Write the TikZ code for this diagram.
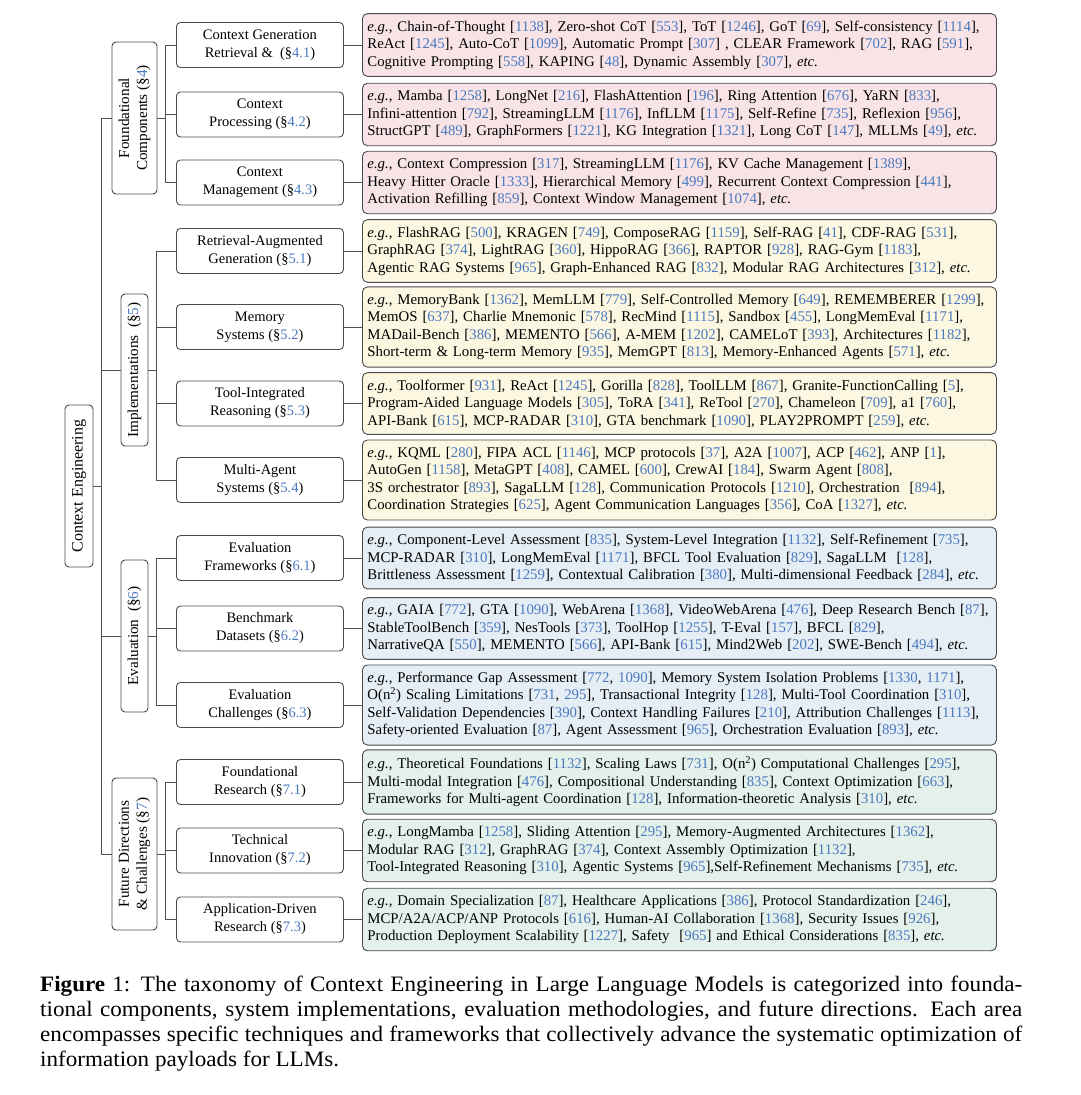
\documentclass[tikz,border=0pt]{standalone}
\usepackage{fontspec}
\setmainfont{Liberation Serif}
\newfontfamily\capfont[FakeStretch=1.05]{Liberation Serif}
\usetikzlibrary{positioning}
\definecolor{cblue}{HTML}{4A78BE}
\definecolor{linegray}{HTML}{505050}
\definecolor{boxgray}{HTML}{4A4A4A}
\definecolor{pinkf}{HTML}{F8E4E7}
\definecolor{creamf}{HTML}{FCF7E1}
\definecolor{bluef}{HTML}{E6EEF5}
\definecolor{greenf}{HTML}{E4F0EA}
\newcommand{\cc}[1]{\textcolor{cblue}{#1}}
\newcommand{\rf}[1]{[\cc{#1}]}
\newcommand{\eg}{\textit{e.g.}}
\newcommand{\etcx}{\textit{etc.}}
\begin{document}
\begin{tikzpicture}[x=1pt,y=-1pt,
  conn/.style={draw=linegray, line width=0.9pt},
  boxbase/.style={draw=boxgray, line width=0.9pt, rounded corners=4pt, fill=white, font=\fontsize{14.5}{18}\selectfont, inner sep=3pt},
  rootbox/.style={boxbase, font=\fontsize{16}{18}\selectfont, rotate=90, minimum width=162pt, minimum height=28pt},
  catA/.style={boxbase, font=\fontsize{15.2}{18}\selectfont, rotate=90, minimum width=152pt, minimum height=45pt, align=center},
  catB/.style={boxbase, font=\fontsize{15.2}{18}\selectfont, rotate=90, minimum width=152pt, minimum height=27pt},
  subbox/.style={boxbase, anchor=west, minimum width=167pt, minimum height=45pt, align=center},
  leafbox/.style={draw=boxgray, line width=0.9pt, rounded corners=5pt, anchor=west, text width=624pt, inner xsep=5pt, inner ysep=7pt, align=left, font=\fontsize{14.8}{17.5}\selectfont},
]
\useasboundingbox (0,0) rectangle (1080,1095);
\fill[white] (0,0) rectangle (1080,1095);

% root and categories
\node[rootbox] (root) at (79,486) {Context Engineering};
\node[catA] (fc) at (134.5,118) {Foundational\\Components (§\cc{4})};
\node[catB] (im) at (134.5,370) {Implementations\ \ (§\cc{5})};
\node[catB] (ev) at (134.5,636) {Evaluation\ \ (§\cc{6})};
\node[catA] (fd) at (134.5,854) {Future Directions\\\& Challenges (§\cc{7})};

% subcategories
\node[subbox] (s41) at (176,45) {Context Generation\\Retrieval \&\ \ (§\cc{4.1})};
\node[subbox] (s42) at (176,114.5) {Context\\Processing (§\cc{4.2})};
\node[subbox] (s43) at (176,182.5) {Context\\Management (§\cc{4.3})};
\node[subbox] (s51) at (176,251) {Retrieval-Augmented\\Generation (§\cc{5.1})};
\node[subbox] (s52) at (176,327) {Memory\\Systems (§\cc{5.2})};
\node[subbox] (s53) at (176,403.5) {Tool-Integrated\\Reasoning (§\cc{5.3})};
\node[subbox] (s54) at (176,480) {Multi-Agent\\Systems (§\cc{5.4})};
\node[subbox] (s61) at (176,558) {Evaluation\\Frameworks (§\cc{6.1})};
\node[subbox] (s62) at (176,628.5) {Benchmark\\Datasets (§\cc{6.2})};
\node[subbox] (s63) at (176,705) {Evaluation\\Challenges (§\cc{6.3})};
\node[subbox] (s71) at (176,782) {Foundational\\Research (§\cc{7.1})};
\node[subbox] (s72) at (176,850.5) {Technical\\Innovation (§\cc{7.2})};
\node[subbox] (s73) at (176,919.5) {Application-Driven\\Research (§\cc{7.3})};

% leaves
\node[leafbox, fill=pinkf] (l41) at (362,45) {\eg, Chain-of-Thought \rf{1138}, Zero-shot CoT \rf{553}, ToT \rf{1246}, GoT \rf{69}, Self-consistency \rf{1114},\\
ReAct \rf{1245}, Auto-CoT \rf{1099}, Automatic Prompt \rf{307} , CLEAR Framework \rf{702}, RAG \rf{591},\\
Cognitive Prompting \rf{558}, KAPING \rf{48}, Dynamic Assembly \rf{307}, \etcx};
\node[leafbox, fill=pinkf] (l42) at (362,114.5) {\eg, Mamba \rf{1258}, LongNet \rf{216}, FlashAttention \rf{196}, Ring Attention \rf{676}, YaRN \rf{833},\\
Infini-attention \rf{792}, StreamingLLM \rf{1176}, InfLLM \rf{1175}, Self-Refine \rf{735}, Reflexion \rf{956},\\
StructGPT \rf{489}, GraphFormers \rf{1221}, KG Integration \rf{1321}, Long CoT \rf{147}, MLLMs \rf{49}, \etcx};
\node[leafbox, fill=pinkf] (l43) at (362,182.5) {\eg, Context Compression \rf{317}, StreamingLLM \rf{1176}, KV Cache Management \rf{1389},\\
Heavy Hitter Oracle \rf{1333}, Hierarchical Memory \rf{499}, Recurrent Context Compression \rf{441},\\
Activation Refilling \rf{859}, Context Window Management \rf{1074}, \etcx};
\node[leafbox, fill=creamf] (l51) at (362,251) {\eg, FlashRAG \rf{500}, KRAGEN \rf{749}, ComposeRAG \rf{1159}, Self-RAG \rf{41}, CDF-RAG \rf{531},\\
GraphRAG \rf{374}, LightRAG \rf{360}, HippoRAG \rf{366}, RAPTOR \rf{928}, RAG-Gym \rf{1183},\\
Agentic RAG Systems \rf{965}, Graph-Enhanced RAG \rf{832}, Modular RAG Architectures \rf{312}, \etcx};
\node[leafbox, fill=creamf] (l52) at (362,327) {\eg, MemoryBank \rf{1362}, MemLLM \rf{779}, Self-Controlled Memory \rf{649}, REMEMBERER \rf{1299},\\
MemOS \rf{637}, Charlie Mnemonic \rf{578}, RecMind \rf{1115}, Sandbox \rf{455}, LongMemEval \rf{1171},\\
MADail-Bench \rf{386}, MEMENTO \rf{566}, A-MEM \rf{1202}, CAMELoT \rf{393}, Architectures \rf{1182},\\
Short-term \& Long-term Memory \rf{935}, MemGPT \rf{813}, Memory-Enhanced Agents \rf{571}, \etcx};
\node[leafbox, fill=creamf] (l53) at (362,403.5) {\eg, Toolformer \rf{931}, ReAct \rf{1245}, Gorilla \rf{828}, ToolLLM \rf{867}, Granite-FunctionCalling \rf{5},\\
Program-Aided Language Models \rf{305}, ToRA \rf{341}, ReTool \rf{270}, Chameleon \rf{709}, a1 \rf{760},\\
API-Bank \rf{615}, MCP-RADAR \rf{310}, GTA benchmark \rf{1090}, PLAY2PROMPT \rf{259}, \etcx};
\node[leafbox, fill=creamf] (l54) at (362,480) {\eg, KQML \rf{280}, FIPA ACL \rf{1146}, MCP protocols \rf{37}, A2A \rf{1007}, ACP \rf{462}, ANP \rf{1},\\
AutoGen \rf{1158}, MetaGPT \rf{408}, CAMEL \rf{600}, CrewAI \rf{184}, Swarm Agent \rf{808},\\
3S orchestrator \rf{893}, SagaLLM \rf{128}, Communication Protocols \rf{1210}, Orchestration\ \ \rf{894},\\
Coordination Strategies \rf{625}, Agent Communication Languages \rf{356}, CoA \rf{1327}, \etcx};
\node[leafbox, fill=bluef] (l61) at (362,558) {\eg, Component-Level Assessment \rf{835}, System-Level Integration \rf{1132}, Self-Refinement \rf{735},\\
MCP-RADAR \rf{310}, LongMemEval \rf{1171}, BFCL Tool Evaluation \rf{829}, SagaLLM\ \ \rf{128},\\
Brittleness Assessment \rf{1259}, Contextual Calibration \rf{380}, Multi-dimensional Feedback \rf{284}, \etcx};
\node[leafbox, fill=bluef] (l62) at (362,628.5) {\eg, GAIA \rf{772}, GTA \rf{1090}, WebArena \rf{1368}, VideoWebArena \rf{476}, Deep Research Bench \rf{87},\\
StableToolBench \rf{359}, NesTools \rf{373}, ToolHop \rf{1255}, T-Eval \rf{157}, BFCL \rf{829},\\
NarrativeQA \rf{550}, MEMENTO \rf{566}, API-Bank \rf{615}, Mind2Web \rf{202}, SWE-Bench \rf{494}, \etcx};
\node[leafbox, fill=bluef] (l63) at (362,705) {\eg, Performance Gap Assessment [\cc{772}, \cc{1090}], Memory System Isolation Problems [\cc{1330}, \cc{1171}],\\
O(n\textsuperscript{2}) Scaling Limitations [\cc{731}, \cc{295}], Transactional Integrity \rf{128}, Multi-Tool Coordination \rf{310},\\
Self-Validation Dependencies \rf{390}, Context Handling Failures \rf{210}, Attribution Challenges \rf{1113},\\
Safety-oriented Evaluation \rf{87}, Agent Assessment \rf{965}, Orchestration Evaluation \rf{893}, \etcx};
\node[leafbox, fill=greenf] (l71) at (362,782) {\eg, Theoretical Foundations \rf{1132}, Scaling Laws \rf{731}, O(n\textsuperscript{2}) Computational Challenges \rf{295},\\
Multi-modal Integration \rf{476}, Compositional Understanding \rf{835}, Context Optimization \rf{663},\\
Frameworks for Multi-agent Coordination \rf{128}, Information-theoretic Analysis \rf{310}, \etcx};
\node[leafbox, fill=greenf] (l72) at (362,850.5) {\eg, LongMamba \rf{1258}, Sliding Attention \rf{295}, Memory-Augmented Architectures \rf{1362},\\
Modular RAG \rf{312}, GraphRAG \rf{374}, Context Assembly Optimization \rf{1132},\\
Tool-Integrated Reasoning \rf{310}, Agentic Systems \rf{965},Self-Refinement Mechanisms \rf{735}, \etcx};
\node[leafbox, fill=greenf] (l73) at (362,919.5) {\eg, Domain Specialization \rf{87}, Healthcare Applications \rf{386}, Protocol Standardization \rf{246},\\
MCP/A2A/ACP/ANP Protocols \rf{616}, Human-AI Collaboration \rf{1368}, Security Issues \rf{926},\\
Production Deployment Scalability \rf{1227}, Safety\ \ \rf{965} and Ethical Considerations \rf{835}, \etcx};

% connectors root -> categories
\foreach \c in {fc,im,ev,fd}
  \draw[conn] (root.south) -- ++(8,0) |- (\c.north);
% categories -> subcategories
\foreach \c/\s in {fc/s41,fc/s42,fc/s43,im/s51,im/s52,im/s53,im/s54,ev/s61,ev/s62,ev/s63,fd/s71,fd/s72,fd/s73}
  \draw[conn] (\c.south) -- ++(8,0) |- (\s.west);
% subcategories -> leaves
\foreach \n in {41,42,43,51,52,53,54,61,62,63,71,72,73}
  \draw[conn] (s\n.east) -- (l\n.west);

% caption
\node[anchor=north west, inner sep=0pt, align=left, font=\capfont\fontsize{22}{25}\selectfont] (cap) at (40,976) {\makebox[982pt][s]{\textbf{Figure} 1: The taxonomy of Context Engineering in Large Language Models is categorized into founda-}\\
\makebox[982pt][s]{tional components, system implementations, evaluation methodologies, and future directions. Each area}\\
\makebox[982pt][s]{encompasses specific techniques and frameworks that collectively advance the systematic optimization of}\\
information payloads for LLMs.};
\end{tikzpicture}
\end{document}
